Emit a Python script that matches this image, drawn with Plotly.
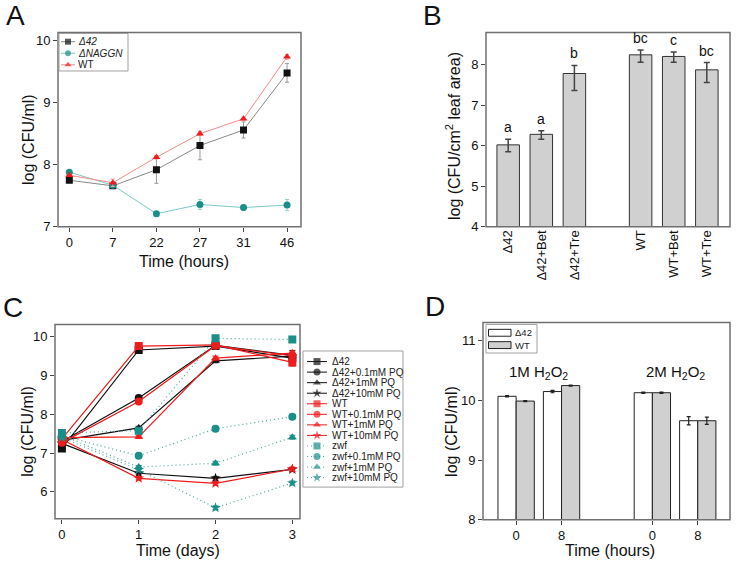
import plotly.graph_objects as go

W, H = 736, 572
FONT = "Liberation Sans, Arial, sans-serif"

# ---------------- Panel A data ----------------
a_times = ['0', '7', '22', '27', '31', '46']
a_d42 = [7.75, 7.66, 7.92, 8.31, 8.56, 9.48]
a_d42_err = [0.02, 0.02, 0.22, 0.23, 0.13, 0.15]
a_naggn = [7.88, 7.67, 7.21, 7.36, 7.31, 7.35]
a_naggn_err = [0.03, 0.02, 0.03, 0.08, 0.04, 0.09]
a_wt = [7.83, 7.71, 8.12, 8.50, 8.74, 9.74]
a_wt_err = [0.02, 0.06, 0.03, 0.03, 0.03, 0.04]
a_names = ['<i>Δ42</i>', '<i>ΔNAGGN</i>', 'WT']

# ---------------- Panel B data ----------------
b_groups = ['Δ42', 'Δ42+Bet', 'Δ42+Tre', 'WT', 'WT+Bet', 'WT+Tre']
b_values = [6.02, 6.28, 7.78, 8.24, 8.20, 7.87]
b_err_plus = [0.14, 0.09, 0.20, 0.12, 0.11, 0.18]
b_err_minus = [0.17, 0.12, 0.42, 0.18, 0.14, 0.31]
b_letters = ['a', 'a', 'b', 'bc', 'c', 'bc']

# ---------------- Panel C data ----------------
c_days = [0, 1, 2, 3]
c_d42 = [7.12, 9.66, 9.76, 9.45]
c_d42_01 = [7.30, 8.42, 9.78, 9.52]
c_d42_1 = [7.33, 7.65, 9.38, 9.50]
c_d42_10 = [7.25, 6.48, 6.35, 6.58]
c_wt = [7.37, 9.76, 9.79, 9.34]
c_wt_01 = [7.27, 8.33, 9.77, 9.51]
c_wt_1 = [7.40, 7.42, 9.45, 9.58]
c_wt_10 = [7.35, 6.35, 6.22, 6.59]
c_zwf = [7.52, 7.58, 9.96, 9.93]
c_zwf_01 = [7.45, 6.93, 7.63, 7.94]
c_zwf_1 = [7.46, 6.64, 6.74, 7.41]
c_zwf_10 = [7.40, 6.57, 5.59, 6.23]
c_err_d42 = [0.04, 0.04, 0.04, 0.20]
c_err_small = [0.04, 0.04, 0.05, 0.05]
c_names = ['Δ42', 'Δ42+0.1mM PQ', 'Δ42+1mM PQ', 'Δ42+10mM PQ',
           'WT', 'WT+0.1mM PQ', 'WT+1mM PQ', 'WT+10mM PQ',
           'zwf', 'zwf+0.1mM PQ', 'zwf+1mM PQ', 'zwf+10mM PQ']

# ---------------- Panel D data ----------------
d_groups = ['1M 0 h', '1M 8 h', '2M 0 h', '2M 8 h']
d_tick_text = ['0', '8', '0', '8']
d_d42 = [10.07, 10.15, 10.13, 9.66]
d_d42_err = [0.01, 0.02, 0.01, 0.07]
d_wt = [9.99, 10.25, 10.13, 9.66]
d_wt_err = [0.01, 0.01, 0.01, 0.06]
d_names = ['Δ42', 'WT']

# ---------------- styles ----------------
BLACK = '#111111'
RED = '#ee1c1c'
TEAL = '#1b8e88'
TEAL_LINE = '#4aa8a2'
GREYBAR = '#d0d0d0'
FRAME = '#707070'

fig = go.Figure()

# ---------- Panel A ----------
a_series = [
    (a_d42, a_d42_err, BLACK, '#888888', '#999999', 'square'),
    (a_naggn, a_naggn_err, TEAL, '#7cc8c4', '#8fcfcb', 'circle'),
    (a_wt, a_wt_err, RED, '#f58a8a', '#f4a0a0', 'triangle-up'),
]
for vals, err, mc, lc, ec, sym in a_series:
    fig.add_trace(go.Scatter(
        x=a_times, y=vals, mode='lines+markers', xaxis='x', yaxis='y',
        line=dict(color=lc, width=1),
        marker=dict(symbol=sym, size=7, color=mc),
        error_y=dict(type='data', array=err, color=ec, thickness=1, width=2),
        showlegend=False, hoverinfo='skip'))

# ---------- Panel B ----------
fig.add_trace(go.Bar(
    x=b_groups, y=b_values, xaxis='x2', yaxis='y2', width=0.68,
    marker=dict(color=GREYBAR, line=dict(color='#333333', width=1)),
    error_y=dict(type='data', array=b_err_plus, arrayminus=b_err_minus,
                 color='#444444', thickness=1.5, width=3),
    showlegend=False, hoverinfo='skip'))
for g, v, ep, lt in zip(b_groups, b_values, b_err_plus, b_letters):
    fig.add_annotation(x=g, y=v + ep, xref='x2', yref='y2', text=lt,
                       showarrow=False, yanchor='bottom', yshift=2,
                       font=dict(family=FONT, size=14, color='#111'))

# ---------- Panel C ----------
c_series = [
    (c_d42, c_err_d42, BLACK, BLACK, 'solid', 'square'),
    (c_d42_01, c_err_small, BLACK, BLACK, 'solid', 'circle'),
    (c_d42_1, c_err_small, BLACK, BLACK, 'solid', 'triangle-up'),
    (c_d42_10, c_err_small, BLACK, BLACK, 'solid', 'star'),
    (c_wt, c_err_small, RED, RED, 'solid', 'square'),
    (c_wt_01, c_err_small, RED, RED, 'solid', 'circle'),
    (c_wt_1, c_err_small, RED, RED, 'solid', 'triangle-up'),
    (c_wt_10, c_err_small, RED, RED, 'solid', 'star'),
    (c_zwf, c_err_small, TEAL, TEAL_LINE, '1px,3px', 'square'),
    (c_zwf_01, c_err_small, TEAL, TEAL_LINE, '1px,3px', 'circle'),
    (c_zwf_1, c_err_small, TEAL, TEAL_LINE, '1px,3px', 'triangle-up'),
    (c_zwf_10, c_err_small, TEAL, TEAL_LINE, '1px,3px', 'star'),
]
for vals, err, mc, lc, dash, sym in c_series:
    fig.add_trace(go.Scatter(
        x=c_days, y=vals, mode='lines+markers', xaxis='x3', yaxis='y3',
        line=dict(color=lc, width=1.2, dash=dash),
        marker=dict(symbol=sym, size=8, color=mc),
        error_y=dict(type='data', array=err, color=mc, thickness=1, width=3),
        showlegend=False, hoverinfo='skip'))

# ---------- Panel D ----------
d_spacer = ' '
fig.add_trace(go.Bar(
    x=d_groups, y=d_d42, xaxis='x4', yaxis='y4', width=0.4, offset=-0.4,
    marker=dict(color='white', line=dict(color='#222222', width=1)),
    error_y=dict(type='data', array=d_d42_err, color='#222', thickness=1.2, width=2),
    showlegend=False, hoverinfo='skip'))
fig.add_trace(go.Bar(
    x=d_groups, y=d_wt, xaxis='x4', yaxis='y4', width=0.4, offset=0,
    marker=dict(color=GREYBAR, line=dict(color='#222222', width=1)),
    error_y=dict(type='data', array=d_wt_err, color='#222', thickness=1.2, width=2),
    showlegend=False, hoverinfo='skip'))
fig.add_annotation(x=0.5, y=10.47, xref='x4', yref='y4', showarrow=False,
                   text='1M H<sub>2</sub>O<sub>2</sub>',
                   font=dict(family=FONT, size=15, color='#111'))
fig.add_annotation(x=3.5, y=10.47, xref='x4', yref='y4', showarrow=False,
                   text='2M H<sub>2</sub>O<sub>2</sub>',
                   font=dict(family=FONT, size=15, color='#111'))

# ---------- custom legends ----------
def legend_entry(xa, ya, yy, mcolor, lcolor, sym, dash, msize, text, x0, xm, x1, tx, fsize):
    fig.add_trace(go.Scatter(
        x=[x0, xm, x1], y=[yy, yy, yy], mode='lines+markers', xaxis=xa, yaxis=ya,
        line=dict(color=lcolor, width=1, dash=dash),
        marker=dict(symbol=sym, size=[0, msize, 0], color=mcolor, line=dict(width=0)),
        showlegend=False, hoverinfo='skip', cliponaxis=False))
    fig.add_annotation(x=tx, y=yy, xref=xa, yref=ya, text=text, showarrow=False,
                       xanchor='left', yanchor='middle',
                       font=dict(family=FONT, size=fsize, color='#222'))

for i, (nm, s) in enumerate(zip(a_names, a_series)):
    legend_entry('x5', 'y5', 8.3 + i * 11.7, s[2], s[3], s[5], 'solid', 6, nm,
                 2, 9, 16, 17, 10)

for i, (nm, s) in enumerate(zip(c_names, c_series)):
    legend_entry('x6', 'y6', 10.7 + i * 10.7, s[2], s[3], s[5], s[4], 7, nm,
                 4, 14, 24, 27, 10)

for i, (nm, col) in enumerate(zip(d_names, ['white', GREYBAR])):
    fig.add_shape(type='rect', xref='x7', yref='y7', x0=2.5, x1=25, y0=5 + i * 12.5,
                  y1=12 + i * 12.5, fillcolor=col, line=dict(color='#222', width=1))
    fig.add_annotation(x=27, y=8.5 + i * 12.5, xref='x7', yref='y7', text=nm,
                       showarrow=False, xanchor='left', yanchor='middle',
                       font=dict(family=FONT, size=9.5, color='#222'))

# frames around panels and legend boxes
for ax, lw, col in [('', 1.5, FRAME), ('2', 1.5, FRAME), ('3', 1.5, FRAME), ('4', 1.5, FRAME),
                    ('5', 1, '#a0a0a0'), ('6', 1, '#a0a0a0'), ('7', 1, '#a0a0a0')]:
    fig.add_shape(type='rect', xref=f'x{ax} domain', yref=f'y{ax} domain',
                  x0=0, x1=1, y0=0, y1=1, line=dict(color=col, width=lw),
                  fillcolor='rgba(0,0,0,0)', layer='above')

# panel letters
for lt, px, py in [('A', 15, 16), ('B', 432, 16), ('C', 13, 312), ('D', 435, 311)]:
    fig.add_annotation(x=px / W, y=1 - py / H, xref='paper', yref='paper', text=lt,
                       showarrow=False, xanchor='center', yanchor='middle',
                       font=dict(family=FONT, size=28, color='#111'))

# axis titles (placed as in the reference)
axis_titles = [
    ('log (CFU/ml)', 28, 142, -90),
    ('Time (hours)', 184, 265, 0),
    ('log (CFU/cm<sup>2</sup> leaf area)', 453, 138, -90),
    ('log (CFU/ml)', 28, 438, -90),
    ('Time (days)', 178, 558, 0),
    ('log (CFU/ml)', 452, 437, -90),
    ('Time (hours)', 610, 558, 0),
]
for txt, px, py, ang in axis_titles:
    fig.add_annotation(x=px / W, y=1 - py / H, xref='paper', yref='paper', text=txt,
                       showarrow=False, xanchor='center', yanchor='middle',
                       textangle=ang, font=dict(family=FONT, size=16, color='#111'))

# ---------- axes ----------
def dom_x(l, r):
    return [l / W, r / W]

def dom_y(t, b):
    return [1 - b / H, 1 - t / H]

base = dict(showline=False, ticks='outside', ticklen=4, tickcolor='#444',
            tickwidth=1.2, showgrid=False,
            zeroline=False, tickfont=dict(family=FONT, size=13, color='#111'))

hidden = dict(showline=False, showticklabels=False, ticks='', showgrid=False,
              zeroline=False, fixedrange=True)

fig.update_layout(
    width=W, height=H, margin=dict(l=0, r=0, t=0, b=0), autosize=False,
    paper_bgcolor='white', plot_bgcolor='white', barmode='overlay',
    font=dict(family=FONT),
    xaxis=dict(base, domain=dom_x(58, 301), anchor='y', type='category',
               range=[-0.26, 5.32]),
    yaxis=dict(base, domain=dom_y(33, 230), anchor='x', range=[7, 10.13],
               tickvals=[7, 8, 9, 10]),
    xaxis2=dict(base, domain=dom_x(486, 730), anchor='y2', type='category',
                categoryorder='array',
                categoryarray=b_groups[:3] + [' '] + b_groups[3:],
                tickvals=b_groups, ticktext=b_groups,
                range=[-0.67, 6.7], tickangle=-90, ticks=''),
    yaxis2=dict(base, domain=dom_y(33, 230), anchor='x2', range=[4, 8.79],
                tickvals=[4, 5, 6, 7, 8]),
    xaxis3=dict(base, domain=dom_x(55, 300), anchor='y3', range=[-0.09, 3.1],
                tickvals=c_days),
    yaxis3=dict(base, domain=dom_y(329, 526), anchor='x3', range=[5.31, 10.32],
                tickvals=[6, 7, 8, 9, 10]),
    xaxis4=dict(base, domain=dom_x(483, 730), anchor='y4', type='category',
                categoryorder='array',
                categoryarray=d_groups[:2] + [d_spacer] + d_groups[2:],
                tickvals=d_groups, ticktext=d_tick_text,
                range=[-0.73, 4.71]),
    yaxis4=dict(base, domain=dom_y(327, 527), anchor='x4', range=[8, 11.31],
                tickvals=[8, 9, 10, 11]),
    xaxis5=dict(hidden, domain=dom_x(59, 128), anchor='y5', range=[0, 69]),
    yaxis5=dict(hidden, domain=dom_y(34, 72), anchor='x5', range=[38, 0]),
    xaxis6=dict(hidden, domain=dom_x(303, 403), anchor='y6', range=[0, 100]),
    yaxis6=dict(hidden, domain=dom_y(356, 494), anchor='x6', range=[138, 0]),
    xaxis7=dict(hidden, domain=dom_x(486, 537), anchor='y7', range=[0, 51]),
    yaxis7=dict(hidden, domain=dom_y(329, 358), anchor='x7', range=[29, 0]),
)

fig.write_html(
    "out.html",
    config={'displayModeBar': False},
    post_script=("var s=document.documentElement.style;s.margin='0';s.padding='0';"
                 "s.overflow='hidden';var b=document.body.style;b.margin='0';"
                 "b.padding='0';b.overflow='hidden';"))
